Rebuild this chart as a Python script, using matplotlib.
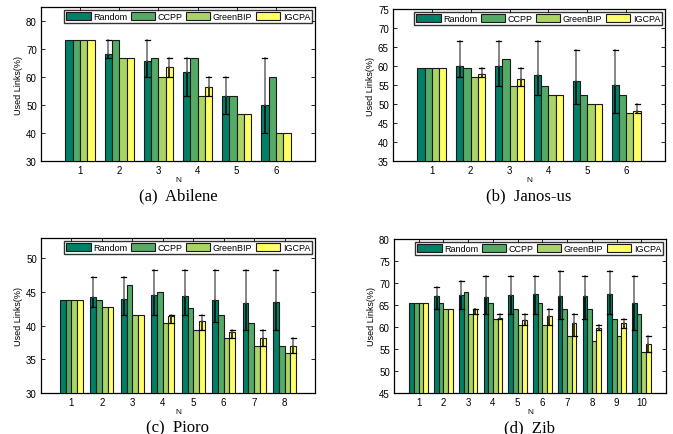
import matplotlib
matplotlib.use("Agg")
import matplotlib.pyplot as plt
import numpy as np

series = ["Random", "CCPP", "GreenBIP", "IGCPA"]

# (a) Abilene
abilene_random = [73.3, 68.2, 65.7, 61.8, 53.3, 50.0]
abilene_ccpp = [73.3, 73.3, 66.7, 66.7, 53.3, 60.0]
abilene_greenbip = [73.3, 66.7, 60.0, 53.3, 46.7, 40.0]
abilene_igcpa = [73.3, 66.7, 63.6, 56.4, 46.7, 40.0]
abilene_random_lo = [73.3, 66.7, 60.0, 53.3, 46.7, 40.0]
abilene_random_hi = [73.3, 73.3, 73.3, 66.7, 60.0, 66.7]
abilene_igcpa_lo = [73.3, 66.7, 60.0, 53.3, 46.7, 40.0]
abilene_igcpa_hi = [73.3, 66.7, 66.7, 60.0, 46.7, 40.0]

# (b) Janos-us
janos_random = [59.5, 60.0, 59.9, 57.7, 56.0, 55.0]
janos_ccpp = [59.5, 59.5, 61.8, 54.8, 52.4, 52.4]
janos_greenbip = [59.5, 57.1, 54.8, 52.4, 50.0, 47.6]
janos_igcpa = [59.5, 58.0, 56.5, 52.4, 50.0, 48.1]
janos_random_lo = [59.5, 57.1, 54.8, 52.4, 50.0, 47.6]
janos_random_hi = [59.5, 66.7, 66.7, 66.7, 64.3, 64.3]
janos_igcpa_lo = [59.5, 57.1, 54.8, 52.4, 50.0, 47.6]
janos_igcpa_hi = [59.5, 59.5, 59.5, 52.4, 50.0, 50.0]

# (c) Pioro
pioro_random = [43.8, 44.3, 44.0, 44.6, 44.4, 43.8, 43.4, 43.5]
pioro_ccpp = [43.8, 43.8, 46.1, 45.0, 42.6, 41.6, 40.4, 37.0]
pioro_greenbip = [43.8, 42.7, 41.6, 40.4, 39.3, 38.2, 37.0, 35.9]
pioro_igcpa = [43.8, 42.7, 41.6, 41.4, 40.7, 39.0, 38.2, 37.0]
pioro_random_lo = [43.8, 42.7, 41.6, 41.6, 41.6, 40.5, 39.3, 39.3]
pioro_random_hi = [43.8, 47.2, 47.2, 48.3, 48.3, 48.3, 48.3, 48.3]
pioro_igcpa_lo = [43.8, 42.7, 41.6, 40.4, 39.3, 38.2, 37.0, 35.9]
pioro_igcpa_hi = [43.8, 42.7, 41.6, 41.6, 41.6, 39.3, 39.3, 38.2]

# (d) Zib
zib_random = [65.4, 67.0, 67.2, 66.8, 67.2, 67.5, 67.1, 67.0, 67.5, 65.4]
zib_ccpp = [65.4, 65.4, 68.0, 65.4, 64.2, 65.4, 64.2, 64.2, 61.8, 63.0]
zib_greenbip = [65.4, 64.2, 63.0, 61.8, 60.5, 60.5, 58.0, 56.8, 58.0, 54.3]
zib_igcpa = [65.4, 64.2, 64.1, 62.1, 61.7, 62.4, 60.8, 59.8, 60.8, 56.1]
zib_random_lo = [65.4, 64.2, 64.2, 63.0, 63.0, 63.0, 61.8, 61.8, 63.0, 59.3]
zib_random_hi = [65.4, 69.2, 70.4, 71.6, 71.6, 71.6, 72.8, 71.6, 72.8, 71.6]
zib_igcpa_lo = [65.4, 64.2, 63.0, 61.8, 60.5, 60.5, 58.0, 59.3, 59.8, 54.3]
zib_igcpa_hi = [65.4, 64.2, 64.2, 63.0, 63.0, 64.2, 63.0, 60.5, 61.8, 58.0]

colors = [(0.0, 0.5, 0.4), (1/3, 2/3, 0.4), (2/3, 5/6, 0.4), (1.0, 1.0, 0.4)]

plt.rcParams['font.family'] = ['Liberation Sans', 'DejaVu Sans']

fig = plt.figure(figsize=(6.73, 4.35), dpi=100)
W, H = 673.0, 435.0

def make_ax(l, r, t, b):
    return fig.add_axes([l / W, 1 - b / H, (r - l) / W, (b - t) / H])

panels = [
    dict(box=(41, 315, 8, 162), vals=[abilene_random, abilene_ccpp, abilene_greenbip, abilene_igcpa],
         rerr=(abilene_random_lo, abilene_random_hi), ierr=(abilene_igcpa_lo, abilene_igcpa_hi),
         ylim=(30, 85), yticks=[30, 40, 50, 60, 70, 80], cap="(a)  Abilene"),
    dict(box=(393, 665, 10, 162), vals=[janos_random, janos_ccpp, janos_greenbip, janos_igcpa],
         rerr=(janos_random_lo, janos_random_hi), ierr=(janos_igcpa_lo, janos_igcpa_hi),
         ylim=(35, 75), yticks=list(range(35, 80, 5)), cap="(b)  Janos-us"),
    dict(box=(41, 315, 239, 394), vals=[pioro_random, pioro_ccpp, pioro_greenbip, pioro_igcpa],
         rerr=(pioro_random_lo, pioro_random_hi), ierr=(pioro_igcpa_lo, pioro_igcpa_hi),
         ylim=(30, 53), yticks=[30, 35, 40, 45, 50], cap="(c)  Pioro"),
    dict(box=(394, 666, 240, 394), vals=[zib_random, zib_ccpp, zib_greenbip, zib_igcpa],
         rerr=(zib_random_lo, zib_random_hi), ierr=(zib_igcpa_lo, zib_igcpa_hi),
         ylim=(45, 80), yticks=list(range(45, 85, 5)), cap="(d)  Zib"),
]

bw = 0.1875

def draw_err(ax, x, val, lo, hi, cw):
    for xi, v, l, h in zip(x, val, lo, hi):
        if h - l < 0.05:
            continue
        top_in = min(v, h)
        ax.plot([xi, xi], [l, top_in], color='black', lw=1.1, zorder=4)
        if h > v:
            ax.plot([xi, xi], [v, h], color='#666666', lw=1.1, zorder=4)
        ax.plot([xi - cw, xi + cw], [h, h], color='black', lw=0.9, zorder=4)
        ax.plot([xi - cw, xi + cw], [l, l], color='black', lw=0.9, zorder=4)

for p in panels:
    l, r, t, b = p['box']
    ax = make_ax(l, r, t, b)
    n = len(p['vals'][0])
    x = np.arange(1, n + 1)
    for i, (vals, c, name) in enumerate(zip(p['vals'], colors, series)):
        xs = x + (i - 1.5) * bw
        bh = np.array(vals) - p['ylim'][0]
        ax.bar(xs, bh, bw, bottom=p['ylim'][0], color=c, edgecolor='#1a1a1a',
               linewidth=0.8, label=name, zorder=3)
    cw = 2.5 * (n + 1) / (r - l)
    draw_err(ax, x - 1.5 * bw, p['vals'][0], *p['rerr'], cw)
    draw_err(ax, x + 1.5 * bw, p['vals'][3], *p['ierr'], cw)
    ax.set_xlim(0, n + 1)
    ax.set_ylim(*p['ylim'])
    ax.set_xticks(x)
    ax.set_yticks(p['yticks'])
    ax.tick_params(direction='in', length=3, width=0.6, labelsize=7, top=True, right=True,
                   pad=3, colors='black')
    for s in ax.spines.values():
        s.set_linewidth(0.9)
    ax.set_ylabel("Used Links(%)", fontsize=6.5, labelpad=2)
    ax.set_xlabel("N", fontsize=6, labelpad=0.5)
    leg = ax.legend(ncol=4, loc='upper right', fontsize=6.5, frameon=True, fancybox=False,
                    handlelength=2.7, handleheight=0.9, handletextpad=0.3, columnspacing=0.35,
                    borderpad=0.25, borderaxespad=0.3, edgecolor='black')
    leg.get_frame().set_linewidth(1.0)
    leg.set_zorder(6)
    cx = (l + r) / 2 / W
    fig.text(cx, 1 - (b + 34) / H, p['cap'], ha='center', va='center', fontsize=12,
             family=['Liberation Serif', 'DejaVu Serif'])

fig.savefig("out.png", dpi=100)
